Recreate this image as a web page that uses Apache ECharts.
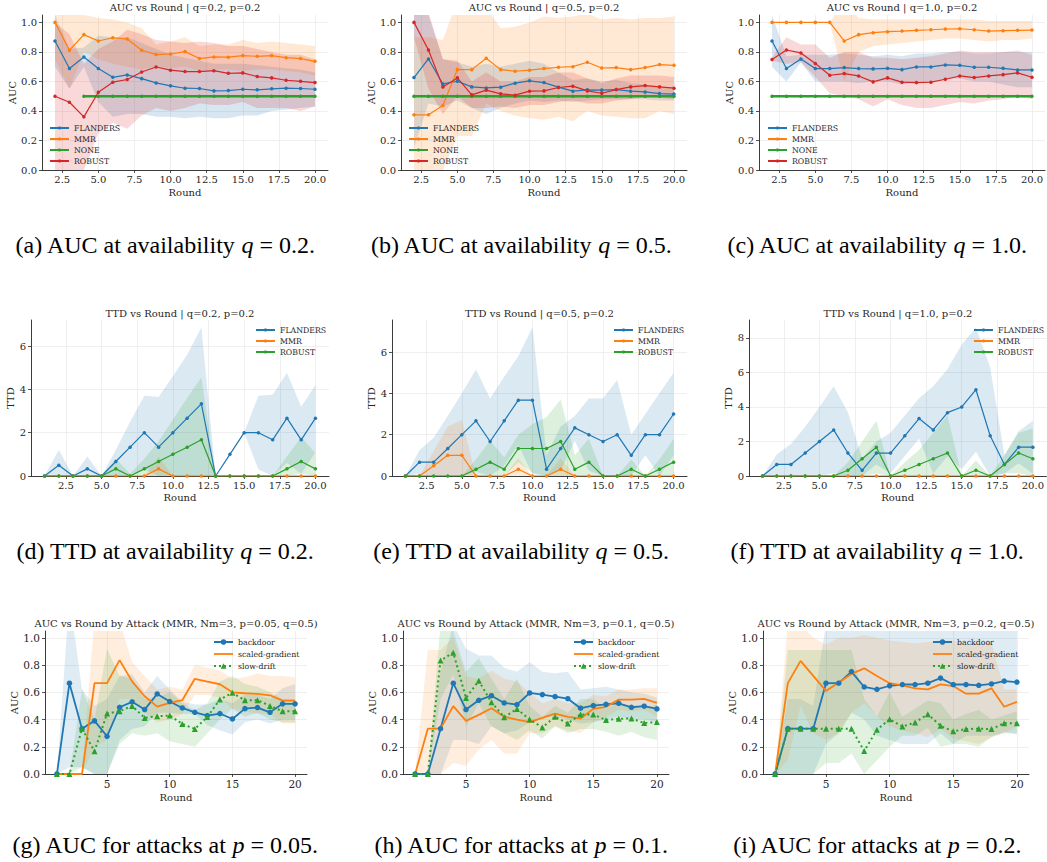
<!DOCTYPE html>
<html><head><meta charset="utf-8">
<script src="https://cdn.jsdelivr.net/npm/echarts@6/dist/echarts.min.js"></script>
<style>html,body{margin:0;padding:0;background:#fff}#c{width:1047px;height:862px}</style>
</head><body><div id="c"></div>
<script>
// ---------- rounds / ticks ----------
const R1_20 = [1,2,3,4,5,6,7,8,9,10,11,12,13,14,15,16,17,18,19,20];
const R2_20 = [2,3,4,5,6,7,8,9,10,11,12,13,14,15,16,17,18,19,20];
const R4_20 = [4,5,6,7,8,9,10,11,12,13,14,15,16,17,18,19,20];
const X_TICKS_FINE = [2.5,5,7.5,10,12.5,15,17.5,20];
const X_TICKS_ATTACK = [5,10,15,20];
const Y_TICKS_AUC = [0,0.2,0.4,0.6,0.8,1.0];
const Y_TICKS_TTD = [0,2,4,6];
const Y_TICKS_TTD_F = [0,2,4,6,8];

// ---------- (a) AUC q=0.2 ----------
const a_FLANDERS    = [0.874,0.687,0.766,0.687,0.628,0.644,0.619,0.590,0.570,0.554,0.552,0.536,0.538,0.547,0.543,0.550,0.554,0.552,0.547];
const a_FLANDERS_lo = [0.70,0.55,0.70,0.46,0.36,0.38,0.38,0.36,0.36,0.35,0.36,0.35,0.35,0.37,0.37,0.40,0.41,0.42,0.43];
const a_FLANDERS_hi = [1.05,0.82,0.83,0.91,0.90,0.90,0.86,0.82,0.78,0.76,0.74,0.72,0.72,0.72,0.71,0.70,0.69,0.68,0.66];
const a_MMR    = [1.0,0.811,0.917,0.874,0.896,0.887,0.811,0.782,0.786,0.802,0.755,0.766,0.764,0.775,0.770,0.775,0.761,0.755,0.736];
const a_MMR_lo = [0.75,0.55,0.80,0.75,0.72,0.70,0.68,0.70,0.69,0.70,0.67,0.68,0.68,0.67,0.68,0.68,0.67,0.66,0.64];
const a_MMR_hi = [1.25,1.07,1.05,1.03,1.02,1.00,0.96,0.85,0.87,0.90,0.84,0.85,0.85,0.88,0.86,0.87,0.86,0.85,0.84];
const a_NONE   = [0.5,0.5,0.5,0.5,0.5,0.5,0.5,0.5,0.5,0.5,0.5,0.5,0.5,0.5,0.5,0.5,0.5];
const a_ROBUST    = [0.5,0.459,0.360,0.527,0.595,0.613,0.664,0.698,0.676,0.667,0.667,0.673,0.655,0.658,0.633,0.624,0.608,0.601,0.592];
const a_ROBUST_lo = [0.0,0.0,0.0,0.25,0.32,0.28,0.37,0.42,0.40,0.42,0.45,0.44,0.44,0.46,0.42,0.42,0.42,0.40,0.43];
const a_ROBUST_hi = [1.0,0.92,0.72,0.82,0.87,0.95,0.92,0.88,0.87,0.86,0.87,0.86,0.84,0.84,0.82,0.80,0.78,0.78,0.75];

// ---------- (b) AUC q=0.5 ----------
const b_FLANDERS    = [0.626,0.752,0.583,0.601,0.563,0.556,0.561,0.588,0.604,0.592,0.561,0.534,0.543,0.541,0.545,0.534,0.529,0.518,0.514];
const b_FLANDERS_lo = [0.15,0.45,0.43,0.47,0.42,0.38,0.42,0.45,0.47,0.46,0.47,0.46,0.47,0.48,0.48,0.48,0.48,0.47,0.47];
const b_FLANDERS_hi = [1.10,1.05,0.75,0.73,0.70,0.72,0.70,0.72,0.74,0.72,0.66,0.61,0.62,0.60,0.61,0.59,0.58,0.56,0.56];
const b_MMR    = [0.374,0.374,0.437,0.680,0.680,0.757,0.680,0.669,0.676,0.687,0.696,0.700,0.730,0.691,0.694,0.680,0.694,0.714,0.709];
const b_MMR_lo = [0.0,0.0,0.0,0.23,0.23,0.45,0.40,0.37,0.35,0.34,0.36,0.33,0.40,0.37,0.36,0.35,0.35,0.40,0.38];
const b_MMR_hi = [0.90,0.90,0.88,1.15,1.15,1.10,0.96,0.97,1.00,1.04,1.03,1.04,1.06,1.02,1.03,1.02,1.03,1.03,1.04];
const b_NONE   = [0.5,0.5,0.5,0.5,0.5,0.5,0.5,0.5,0.5,0.5,0.5,0.5,0.5,0.5,0.5,0.5,0.5,0.5,0.5];
const b_ROBUST    = [1.0,0.813,0.563,0.624,0.509,0.541,0.516,0.507,0.534,0.536,0.559,0.568,0.536,0.520,0.545,0.563,0.572,0.563,0.554];
const b_ROBUST_lo = [0.90,0.55,0.38,0.50,0.42,0.42,0.43,0.42,0.44,0.44,0.46,0.47,0.45,0.45,0.47,0.48,0.50,0.49,0.48];
const b_ROBUST_hi = [1.10,1.07,0.75,0.74,0.60,0.66,0.60,0.60,0.63,0.63,0.66,0.66,0.62,0.59,0.62,0.64,0.64,0.64,0.63];

// ---------- (c) AUC q=1.0 ----------
const c_FLANDERS    = [0.874,0.687,0.752,0.687,0.687,0.694,0.687,0.685,0.689,0.680,0.698,0.698,0.712,0.709,0.696,0.696,0.689,0.678,0.678];
const c_FLANDERS_lo = [0.70,0.60,0.73,0.60,0.60,0.60,0.59,0.60,0.60,0.58,0.60,0.60,0.62,0.62,0.60,0.60,0.58,0.56,0.56];
const c_FLANDERS_hi = [1.05,0.77,0.78,0.78,0.78,0.79,0.78,0.77,0.78,0.77,0.79,0.79,0.80,0.80,0.79,0.79,0.80,0.80,0.80];
const c_MMR    = [1.0,1.0,1.0,1.0,1.0,0.874,0.917,0.930,0.937,0.941,0.946,0.950,0.955,0.957,0.950,0.941,0.944,0.946,0.948];
const c_MMR_lo = [1.0,1.0,1.0,1.0,1.0,0.60,0.80,0.84,0.85,0.86,0.87,0.88,0.89,0.89,0.88,0.87,0.88,0.88,0.89];
const c_MMR_hi = [1.0,1.0,1.0,1.0,1.0,1.15,1.03,1.02,1.02,1.02,1.02,1.02,1.02,1.02,1.02,1.01,1.01,1.01,1.01];
const c_NONE   = [0.5,0.5,0.5,0.5,0.5,0.5,0.5,0.5,0.5,0.5,0.5,0.5,0.5,0.5,0.5,0.5,0.5,0.5,0.5];
const c_ROBUST    = [0.748,0.813,0.793,0.721,0.642,0.653,0.637,0.597,0.624,0.595,0.592,0.595,0.615,0.637,0.626,0.637,0.646,0.658,0.628];
const c_ROBUST_lo = [0.74,0.72,0.73,0.63,0.52,0.50,0.48,0.43,0.48,0.44,0.42,0.42,0.44,0.46,0.45,0.47,0.48,0.50,0.48];
const c_ROBUST_hi = [0.76,0.90,0.85,0.85,0.76,0.80,0.80,0.76,0.76,0.75,0.76,0.77,0.79,0.81,0.80,0.80,0.80,0.81,0.78];

// ---------- (d) TTD q=0.2 ----------
const d_FLANDERS    = [0,0.5,0,0.33,0,0.67,1.33,2.0,1.33,2.0,2.67,3.33,0,1.0,2.0,2.0,1.67,2.67,1.67,2.67];
const d_FLANDERS_lo = [0,0,0,0,0,0,0,0.3,0,0,0,0,0,1.0,2.0,0.3,0,0.6,0.1,1.1];
const d_FLANDERS_hi = [0,1.2,0,0.9,0,1.2,2.5,3.7,3.65,4.6,5.6,6.85,0,1.0,2.0,3.7,3.75,4.75,3.2,4.2];
const d_MMR    = [0,0,0,0,0,0,0,0,0.33,0,0,0,0,0,0,0,0,0,0,0];
const d_MMR_lo = [0,0,0,0,0,0,0,0,0,0,0,0,0,0,0,0,0,0,0,0];
const d_MMR_hi = [0,0,0,0,0,0,0,0,0.9,0,0,0,0,0,0,0,0,0,0,0];
const d_ROBUST    = [0,0,0,0,0,0.33,0,0.33,0.67,1.0,1.33,1.67,0,0,0,0,0,0.33,0.67,0.33];
const d_ROBUST_lo = [0,0,0,0,0,0,0,0,0,0,0,0,0,0,0,0,0,0,0.1,0];
const d_ROBUST_hi = [0,0,0,0,0,0.8,0.1,0.8,1.6,2.6,3.6,4.55,0,0,0,0,0,0.9,1.8,1.05];

// ---------- (e) TTD q=0.5 ----------
const e_FLANDERS    = [0,0.67,0.67,1.33,2.0,2.67,1.67,2.67,3.67,3.67,0.33,1.33,2.33,2.0,1.67,2.0,1.0,2.0,2.0,3.0];
const e_FLANDERS_lo = [0,0.1,0,0,0,0.2,0,0.5,1.5,0.1,0,0.26,1.7,0.25,0,0,0,1.0,0,1.0];
const e_FLANDERS_hi = [0,1.25,1.85,2.9,4.0,5.15,3.75,4.8,5.8,7.2,1.0,2.4,2.9,3.75,3.75,4.65,2.0,3.0,4.0,5.0];
const e_MMR    = [0,0,0.5,1.0,1.0,0,0,0,0.33,0,0,0.33,0,0,0,0,0,0,0,0];
const e_MMR_lo = [0,0,0,0,0,0,0,0,0,0,0,0,0,0,0,0,0,0,0,0];
const e_MMR_hi = [0,0,1.2,2.4,2.7,0,0,0,0.85,0,0,0.85,0,0,0,0,0,0,0,0];
const e_ROBUST    = [0,0,0,0,0,0.33,0.67,0.33,1.33,1.33,1.33,1.67,0.33,0.67,0,0,0.33,0,0.33,0.67];
const e_ROBUST_lo = [0,0,0,0,0,0,0,0,0.66,0.16,0,0,0,0,0,0,0,0,0,0];
const e_ROBUST_hi = [0,0,0,0,0,0.8,1.7,0.9,2.0,2.5,2.85,3.7,1.0,1.8,0,0,0.8,0,0.8,1.8];

// ---------- (f) TTD q=1.0 ----------
const f_FLANDERS    = [0,0.67,0.67,1.33,2.0,2.67,1.33,0.33,1.33,1.33,2.33,3.33,2.67,3.67,4.0,5.0,2.33,0.67,1.67,1.67];
const f_FLANDERS_lo = [0,0.09,0,0,0,0.14,0,0,0.66,0.16,1.16,2.16,0.14,1.14,0.4,1.4,0,0.14,0.74,0.14];
const f_FLANDERS_hi = [0,1.25,1.85,2.85,4.0,5.2,3.7,1.0,2.0,2.5,3.5,4.5,5.2,6.2,7.6,8.6,6.3,1.2,2.6,3.2];
const f_MMR    = [0,0,0,0,0,0,0,0,0,0,0,0,0,0,0,0,0,0,0,0];
const f_ROBUST    = [0,0,0,0,0,0,0.33,1.0,1.67,0,0.33,0.67,1.0,1.33,0,0.33,0,0.67,1.33,1.0];
const f_ROBUST_lo = [0,0,0,0,0,0,0,0,0.14,0,0,0,0,0,0,0,0,0.14,0.16,0];
const f_ROBUST_hi = [0,0,0,0,0,0,0.8,2.0,3.2,0,0.8,1.5,2.5,3.5,0,0.9,0,1.2,2.5,2.75];

// ---------- (g) attacks p=0.05 ----------
const g_backdoor    = [0,0.667,0.333,0.39,0.277,0.49,0.53,0.473,0.588,0.532,0.485,0.453,0.429,0.444,0.404,0.48,0.488,0.453,0.515,0.515];
const g_backdoor_lo = [0,0.05,0.05,0.0,0.0,0.25,0.33,0.35,0.45,0.45,0.44,0.44,0.36,0.32,0.29,0.38,0.40,0.37,0.40,0.40];
const g_backdoor_hi = [0,1.3,0.62,0.5,0.55,0.72,0.73,0.60,0.72,0.62,0.53,0.51,0.51,0.55,0.52,0.58,0.58,0.55,0.63,0.66];
const g_scaled    = [0,0,0,0.667,0.667,0.836,0.68,0.571,0.495,0.522,0.542,0.699,0.679,0.659,0.60,0.593,0.588,0.578,0.539,0.539];
const g_scaled_lo = [0,0,0,0.2,0.25,0.55,0.55,0.45,0.38,0.40,0.44,0.58,0.58,0.56,0.48,0.46,0.44,0.44,0.37,0.37];
const g_scaled_hi = [0,0,0,1.15,1.1,1.12,0.82,0.72,0.62,0.64,0.62,0.80,0.78,0.76,0.70,0.71,0.74,0.72,0.72,0.71];
const g_slow    = [0,0,0.333,0.167,0.444,0.461,0.5,0.412,0.424,0.429,0.368,0.331,0.419,0.547,0.596,0.542,0.542,0.5,0.461,0.461];
const g_slow_lo = [0,0,0.05,0,0,0.22,0.30,0.28,0.30,0.24,0.22,0.20,0.30,0.40,0.48,0.42,0.45,0.40,0.38,0.38];
const g_slow_hi = [0,0,0.62,0.40,0.92,0.72,0.70,0.55,0.56,0.60,0.52,0.47,0.52,0.68,0.72,0.66,0.64,0.60,0.55,0.55];

// ---------- (h) attacks p=0.1 ----------
const h_backdoor    = [0,0,0.333,0.667,0.473,0.541,0.575,0.522,0.51,0.595,0.583,0.568,0.553,0.483,0.502,0.512,0.519,0.49,0.498,0.478];
const h_backdoor_lo = [0,0,0,0.25,0.25,0.22,0.35,0.30,0.32,0.38,0.42,0.42,0.40,0.37,0.38,0.40,0.42,0.40,0.40,0.38];
const h_backdoor_hi = [0,0,0.75,1.1,0.92,0.87,0.87,0.78,0.75,0.82,0.75,0.74,0.75,0.62,0.63,0.64,0.62,0.60,0.59,0.56];
const h_scaled    = [0,0.333,0.333,0.498,0.39,0.434,0.483,0.42,0.40,0.381,0.412,0.444,0.42,0.408,0.478,0.493,0.546,0.546,0.551,0.522];
const h_scaled_lo = [0,0,0,0.08,0.06,0.18,0.25,0.15,0.15,0.30,0.30,0.35,0.32,0.30,0.38,0.42,0.47,0.46,0.47,0.42];
const h_scaled_hi = [0,0.91,0.91,1.0,0.72,0.70,0.76,0.70,0.68,0.60,0.52,0.55,0.52,0.52,0.58,0.57,0.62,0.62,0.63,0.63];
const h_slow    = [0,0,0.833,0.891,0.558,0.684,0.527,0.417,0.478,0.40,0.342,0.42,0.371,0.437,0.437,0.396,0.405,0.408,0.374,0.381];
const h_slow_lo = [0,0,0.55,0.73,0.35,0.52,0.35,0.30,0.25,0.32,0.26,0.35,0.30,0.33,0.33,0.31,0.28,0.31,0.27,0.25];
const h_slow_hi = [0,0,1.1,1.05,0.75,0.85,0.70,0.55,0.70,0.50,0.42,0.50,0.45,0.55,0.55,0.48,0.52,0.50,0.48,0.51];

// ---------- (i) attacks p=0.2 ----------
const i_backdoor    = [0,0.333,0.333,0.333,0.667,0.667,0.752,0.639,0.622,0.648,0.657,0.657,0.667,0.704,0.657,0.657,0.651,0.661,0.682,0.675];
const i_backdoor_lo = [0,0,0,0,0.22,0.30,0.45,0.40,0.28,0.25,0.22,0.22,0.22,0.30,0.22,0.28,0.28,0.28,0.30,0.30];
const i_backdoor_hi = [0,0.55,0.55,0.5,1.1,1.1,1.1,1.05,1.05,1.05,1.1,1.1,1.1,1.1,1.1,1.05,1.05,1.05,1.05,1.05];
const i_scaled    = [0,0.667,0.831,0.72,0.61,0.672,0.735,0.776,0.72,0.667,0.651,0.629,0.622,0.658,0.646,0.59,0.59,0.629,0.494,0.53];
const i_scaled_lo = [0,0.1,0.5,0.3,0.25,0.3,0.45,0.52,0.42,0.35,0.32,0.30,0.27,0.33,0.26,0.24,0.22,0.27,0.30,0.35];
const i_scaled_hi = [0,1.1,1.1,1.0,0.95,1.0,1.0,1.02,1.0,0.98,0.97,0.96,0.97,0.98,0.98,0.95,0.96,0.97,0.62,0.62];
const i_slow    = [0,0.333,0.333,0.333,0.333,0.333,0.333,0.169,0.325,0.402,0.349,0.378,0.439,0.354,0.313,0.33,0.333,0.33,0.373,0.373];
const i_slow_lo = [0,0,0,0,0.08,0.08,0.15,0,0.1,0.2,0.28,0.28,0.34,0.2,0.22,0.22,0.2,0.27,0.31,0.29];
const i_slow_hi = [0,0.91,0.91,0.91,0.91,0.91,0.91,0.55,0.42,0.6,0.42,0.48,0.54,0.52,0.4,0.44,0.47,0.4,0.43,0.46];

// ---------- text ----------
const TITLES = [
  'AUC vs Round | q=0.2, p=0.2','AUC vs Round | q=0.5, p=0.2','AUC vs Round | q=1.0, p=0.2',
  'TTD vs Round | q=0.2, p=0.2','TTD vs Round | q=0.5, p=0.2','TTD vs Round | q=1.0, p=0.2',
  'AUC vs Round by Attack (MMR, Nm=3, p=0.05, q=0.5)','AUC vs Round by Attack (MMR, Nm=3, p=0.1, q=0.5)','AUC vs Round by Attack (MMR, Nm=3, p=0.2, q=0.5)'
];
const CAPTIONS = [
  '(a) AUC at availability {i|q} = 0.2.', '(b) AUC at availability {i|q} = 0.5.', '(c) AUC at availability {i|q} = 1.0.',
  '(d) TTD at availability {i|q} = 0.2.', '(e) TTD at availability {i|q} = 0.5.', '(f) TTD at availability {i|q} = 1.0.',
  '(g) AUC for attacks at {i|p} = 0.05.', '(h) AUC for attacks at {i|p} = 0.1.', '(i) AUC for attacks at {i|p} = 0.2.'
];

// ---------- styling / builder ----------
const COL = {blue:'#1f77b4', orange:'#ff7f0e', green:'#2ca02c', red:'#d62728'};
const FONT = 'DejaVu Serif';
const INK = '#262626';
const PLAIN_LINE_ICON = 'path://M0,0L19,0L19,1.8L0,1.8Z';
function rgba(hex, a){const n=parseInt(hex.slice(1),16);return `rgba(${n>>16&255},${n>>8&255},${n&255},${a})`;}

const grids=[], xAxes=[], yAxes=[], series=[], titles=[], legends=[];

function addPanel(p){
  const gi = grids.length;
  grids.push({left:p.left, top:p.top, width:p.width, height:p.height});
  const tickLine = {color:INK, width:0.8};
  xAxes.push({gridIndex:gi, type:'value', min:p.xmin, max:p.xmax,
    axisLine:{show:true, onZero:false, lineStyle:{color:INK, width:0.9}},
    axisTick:{show:true, length:3, customValues:p.xticks, lineStyle:tickLine},
    axisLabel:{customValues:p.xticks, formatter:p.xfmt, fontSize:p.tickFont, fontFamily:FONT, color:INK, margin:4},
    splitLine:{show:true, lineStyle:{color:'#ebebeb', width:0.8}},
    name:'Round', nameLocation:'middle', nameGap:p.xNameGap, nameTextStyle:{fontSize:10, fontFamily:FONT, color:INK}});
  yAxes.push({gridIndex:gi, type:'value', min:0, max:p.ymax,
    axisLine:{show:true, onZero:false, lineStyle:{color:INK, width:0.9}},
    axisTick:{show:true, length:3, customValues:p.yticks, lineStyle:tickLine},
    axisLabel:{customValues:p.yticks, formatter:p.yfmt, fontSize:p.tickFont, fontFamily:FONT, color:INK, margin:5},
    splitLine:{show:true, lineStyle:{color:'#ebebeb', width:0.8}},
    name:p.yName, nameLocation:'middle', nameGap:p.yNameGap, nameTextStyle:{fontSize:10, fontFamily:FONT, color:INK}});
  titles.push({text:p.title, left:p.left + p.width/2, top:p.titleTop, textAlign:'center', padding:0,
    textStyle:{fontSize:10, fontWeight:'normal', fontFamily:FONT, color:INK}});
  // shaded bands: one polygon per band, placed through the axes with api.coord
  p.bands.forEach(b=>{
    const fill = rgba(b.color, p.bandAlpha);
    series.push({type:'custom', xAxisIndex:gi, yAxisIndex:gi, silent:true, z:1, clip:true, animation:false,
      data:[[b.x[0], b.lo[0]]],
      renderItem:(params, api)=>{
        const pts = [];
        for (let i=0;i<b.x.length;i++) pts.push(api.coord([b.x[i], b.hi[i]]));
        for (let i=b.x.length-1;i>=0;i--) pts.push(api.coord([b.x[i], b.lo[i]]));
        const cs = params.coordSys;
        return {type:'group',
          clipPath:{type:'rect', shape:{x:cs.x, y:cs.y, width:cs.width, height:cs.height}},
          children:[{type:'polygon', shape:{points:pts}, style:{fill:fill, stroke:null}}]};
      }});
  });
  p.lines.forEach(l=>{
    series.push({type:'line', name:l.name+'#'+gi, xAxisIndex:gi, yAxisIndex:gi, silent:true, z:3,
      data:l.x.map((x,i)=>[x,l.y[i]]), symbol:l.symbol||'none', symbolSize:l.size||0, showSymbol:!!l.symbol, showAllSymbol:true,
      lineStyle:{color:l.color, width:l.width, type:l.type||'solid'}, itemStyle:{color:l.color}, animation:false});
  });
  legends.push({show:true, orient:'vertical', left:p.legLeft, top:p.legTop, padding:0, itemGap:p.legGap,
    itemWidth:19, itemHeight:p.legIconH,
    data:p.lines.map(l=> l.symbol ? {name:l.name+'#'+gi} : {name:l.name+'#'+gi, icon:PLAIN_LINE_ICON}),
    formatter:n=>n.split('#')[0], selectedMode:false,
    textStyle:{fontSize:7.8, fontFamily:FONT, color:INK}});
}

const fmt1 = v=>v.toFixed(1), fmtInt = v=>String(v);
const row1 = {top:15, height:155, width:286, xmin:1.1, xmax:20.9, ymax:1.05, xticks:X_TICKS_FINE, yticks:Y_TICKS_AUC,
  xfmt:fmt1, yfmt:fmt1, tickFont:10, xNameGap:17, yName:'AUC', yNameGap:24, titleTop:2, bandAlpha:0.18,
  legTop:124, legGap:3, legIconH:4};
function row1Lines(F, M, Nx, N, R){
  return [
    {name:'FLANDERS', x:R2_20, y:F, color:COL.blue, width:1.2, symbol:'circle', size:3.5},
    {name:'MMR', x:R2_20, y:M, color:COL.orange, width:1.2, symbol:'circle', size:3.5},
    {name:'NONE', x:Nx, y:N, color:COL.green, width:2.4, symbol:'circle', size:3.5},
    {name:'ROBUST', x:R2_20, y:R, color:COL.red, width:1.2, symbol:'circle', size:3.5}];
}
addPanel(Object.assign({}, row1, {left:42, title:TITLES[0], legLeft:49,
  bands:[{x:R2_20, lo:a_FLANDERS_lo, hi:a_FLANDERS_hi, color:COL.blue},{x:R2_20, lo:a_MMR_lo, hi:a_MMR_hi, color:COL.orange},
         {x:R2_20, lo:a_ROBUST_lo, hi:a_ROBUST_hi, color:COL.red}],
  lines:row1Lines(a_FLANDERS, a_MMR, R4_20, a_NONE, a_ROBUST)}));
addPanel(Object.assign({}, row1, {left:401, title:TITLES[1], legLeft:408,
  bands:[{x:R2_20, lo:b_FLANDERS_lo, hi:b_FLANDERS_hi, color:COL.blue},{x:R2_20, lo:b_MMR_lo, hi:b_MMR_hi, color:COL.orange},
         {x:R2_20, lo:b_ROBUST_lo, hi:b_ROBUST_hi, color:COL.red}],
  lines:row1Lines(b_FLANDERS, b_MMR, R2_20, b_NONE, b_ROBUST)}));
addPanel(Object.assign({}, row1, {left:759, title:TITLES[2], legLeft:767,
  bands:[{x:R2_20, lo:c_FLANDERS_lo, hi:c_FLANDERS_hi, color:COL.blue},{x:R2_20, lo:c_MMR_lo, hi:c_MMR_hi, color:COL.orange},
         {x:R2_20, lo:c_ROBUST_lo, hi:c_ROBUST_hi, color:COL.red}],
  lines:row1Lines(c_FLANDERS, c_MMR, R2_20, c_NONE, c_ROBUST)}));

const row2 = {top:320, height:156, width:298, xmin:0.05, xmax:20.95, xticks:X_TICKS_FINE,
  xfmt:fmt1, yfmt:fmtInt, tickFont:10, xNameGap:16, yName:'TTD', yNameGap:13, titleTop:308, bandAlpha:0.16,
  legTop:326, legGap:3, legIconH:4};
function row2Lines(F, M, R){
  return [
    {name:'FLANDERS', x:R1_20, y:F, color:COL.blue, width:1.2, symbol:'circle', size:3.5},
    {name:'MMR', x:R1_20, y:M, color:COL.orange, width:1.2, symbol:'circle', size:3.5},
    {name:'ROBUST', x:R1_20, y:R, color:COL.green, width:1.2, symbol:'circle', size:3.5}];
}
addPanel(Object.assign({}, row2, {left:31, ymax:7.2, yticks:Y_TICKS_TTD, title:TITLES[3], legLeft:255,
  bands:[{x:R1_20, lo:d_FLANDERS_lo, hi:d_FLANDERS_hi, color:COL.blue},{x:R1_20, lo:d_MMR_lo, hi:d_MMR_hi, color:COL.orange},
         {x:R1_20, lo:d_ROBUST_lo, hi:d_ROBUST_hi, color:COL.green}],
  lines:row2Lines(d_FLANDERS, d_MMR, d_ROBUST)}));
addPanel(Object.assign({}, row2, {left:392, width:295, ymax:7.55, yticks:Y_TICKS_TTD, title:TITLES[4], legLeft:613, yNameGap:14,
  bands:[{x:R1_20, lo:e_FLANDERS_lo, hi:e_FLANDERS_hi, color:COL.blue},{x:R1_20, lo:e_MMR_lo, hi:e_MMR_hi, color:COL.orange},
         {x:R1_20, lo:e_ROBUST_lo, hi:e_ROBUST_hi, color:COL.green}],
  lines:row2Lines(e_FLANDERS, e_MMR, e_ROBUST)}));
addPanel(Object.assign({}, row2, {left:749, ymax:9.04, yticks:Y_TICKS_TTD_F, title:TITLES[5], legLeft:973, yNameGap:12,
  bands:[{x:R1_20, lo:f_FLANDERS_lo, hi:f_FLANDERS_hi, color:COL.blue},
         {x:R1_20, lo:f_ROBUST_lo, hi:f_ROBUST_hi, color:COL.green}],
  lines:row2Lines(f_FLANDERS, f_MMR, f_ROBUST)}));

const row3 = {top:631, height:143, xmin:0.05, xmax:20.95, ymax:1.05, xticks:X_TICKS_ATTACK, yticks:Y_TICKS_AUC,
  xfmt:fmtInt, yfmt:fmt1, tickFont:10.5, xNameGap:18, yName:'AUC', yNameGap:25, titleTop:618, bandAlpha:0.14,
  legTop:638, legGap:4, legIconH:7};
function row3Lines(B, S, D){
  return [
    {name:'backdoor', x:R1_20, y:B, color:COL.blue, width:1.8, symbol:'circle', size:5.5},
    {name:'scaled-gradient', x:R1_20, y:S, color:COL.orange, width:1.8},
    {name:'slow-drift', x:R1_20, y:D, color:COL.green, width:2, type:[2,3], symbol:'triangle', size:6}];
}
addPanel(Object.assign({}, row3, {left:45, width:262, title:TITLES[6], legLeft:213,
  bands:[{x:R1_20, lo:g_backdoor_lo, hi:g_backdoor_hi, color:COL.blue},{x:R1_20, lo:g_scaled_lo, hi:g_scaled_hi, color:COL.orange},
         {x:R1_20, lo:g_slow_lo, hi:g_slow_hi, color:COL.green}],
  lines:row3Lines(g_backdoor, g_scaled, g_slow)}));
addPanel(Object.assign({}, row3, {left:403, width:266, title:TITLES[7], legLeft:573,
  bands:[{x:R1_20, lo:h_backdoor_lo, hi:h_backdoor_hi, color:COL.blue},{x:R1_20, lo:h_scaled_lo, hi:h_scaled_hi, color:COL.orange},
         {x:R1_20, lo:h_slow_lo, hi:h_slow_hi, color:COL.green}],
  lines:row3Lines(h_backdoor, h_scaled, h_slow)}));
addPanel(Object.assign({}, row3, {left:763, width:266, title:TITLES[8], legLeft:932,
  bands:[{x:R1_20, lo:i_backdoor_lo, hi:i_backdoor_hi, color:COL.blue},{x:R1_20, lo:i_scaled_lo, hi:i_scaled_hi, color:COL.orange},
         {x:R1_20, lo:i_slow_lo, hi:i_slow_hi, color:COL.green}],
  lines:row3Lines(i_backdoor, i_scaled, i_slow)}));

// captions
const CAP_X = [165, 521, 877], CAP_Y = [233, 539, 833];
CAPTIONS.forEach((t,k)=>{
  titles.push({text:t, left:CAP_X[k%3], top:CAP_Y[Math.floor(k/3)], textAlign:'center', padding:0,
    textStyle:{fontSize:24, fontWeight:'normal', fontFamily:'Liberation Serif', color:'#000',
      rich:{i:{fontSize:24, fontStyle:'italic', fontFamily:'Liberation Serif', color:'#000'}}}});
});

const chart = echarts.init(document.getElementById('c'), null, {renderer:'svg'});
chart.setOption({backgroundColor:'#fff', animation:false, title:titles, grid:grids, xAxis:xAxes, yAxis:yAxes, legend:legends, series:series});
</script></body></html>
